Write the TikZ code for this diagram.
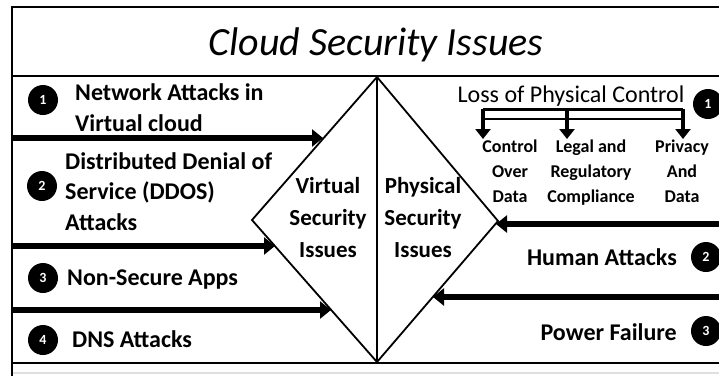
\documentclass[tikz,border=0pt]{standalone}
\usepackage{fontspec}
\setmainfont{Carlito}
\usetikzlibrary{arrows.meta}
\begin{document}
\begin{tikzpicture}[x=1pt,y=-1pt,
  frame/.style={line width=2.6pt},
  edge/.style={line width=1.8pt, line join=miter},
  bigarrow/.style={line width=6.5pt, -{Triangle[length=11pt,width=17pt]}},
  droparrow/.style={line width=4.5pt, -{Triangle[length=10pt,width=15pt]}},
  badge/.style={circle, fill=black, minimum size=30pt, inner sep=0pt, text=white,
    font=\bfseries\fontsize{14}{14}\selectfont},
  item/.style={inner sep=0pt, font=\bfseries\fontsize{24}{30.5}\selectfont, align=left},
  side/.style={inner sep=0pt, font=\bfseries\fontsize{23}{32}\selectfont, align=center},
  sub/.style={inner sep=0pt, font=\bfseries\fontsize{18}{25}\selectfont, align=center},
]
\useasboundingbox (0,0) rectangle (719,376);
\fill[white] (0,0) rectangle (719,376);

% outer frame and title band
\coordinate (fTL) at (12,7);
\coordinate (fTR) at (719,7);
\coordinate (fBL) at (12,376);
\coordinate (hL) at (12,76);
\coordinate (hR) at (719,76);
\coordinate (bL) at (12,363);
\coordinate (bR) at (719,363);
\draw[gray!25, line width=1.5pt] (12,373) -- (719,373);
\draw[frame] (fTR) -- (fTL) -- (fBL);
\draw[frame] (hL) -- (hR);
\draw[frame] (bL) -- (bR);

\node[inner sep=0pt, anchor=base, font=\itshape\fontsize{40}{40}\selectfont] (title) at (376,55) {Cloud Security Issues};

% central diamond split into virtual / physical halves
\coordinate (T) at (377,77);
\coordinate (R) at (498,221);
\coordinate (B) at (377,362);
\coordinate (L) at (252,220);
\draw[edge] (T) -- (R) -- (B) -- (L) -- cycle;
\draw[edge] (T) -- (B);

% multi-line nodes: the base anchor sits on the last line
\node[side, anchor=base] (virt) at (328,257) {Virtual\\Security\\Issues};
\node[side, anchor=base] (phys) at (423,257) {Physical\\Security\\Issues};

% virtual threats (left)
\node[badge] (n1) at (43,100) {1};
\node[item, anchor=base west] (t1) at (75,131) {Network Attacks in\\Virtual cloud};
\node[badge] (n2) at (42,186) {2};
\node[item, anchor=base west] (t2) at (65,230) {Distributed Denial of\\Service (DDOS)\\Attacks};
\node[badge] (n3) at (43,278) {3};
\node[item, anchor=base west] (t3) at (67,285) {Non-Secure Apps};
\node[badge] (n4) at (43,340) {4};
\node[item, anchor=base west] (t4) at (72,347) {DNS Attacks};

\coordinate (a1s) at (12,138);  \coordinate (a1e) at (323,138);
\coordinate (a2s) at (12,246);  \coordinate (a2e) at (275,246);
\coordinate (a3s) at (12,310);  \coordinate (a3e) at (331,310);
\draw[bigarrow] (a1s) -- (a1e);
\draw[bigarrow] (a2s) -- (a2e);
\draw[bigarrow] (a3s) -- (a3e);

% physical threats (right)
\node[inner sep=0pt, anchor=base, font=\fontsize{24}{24}\selectfont] (loss) at (571,102) {Loss of Physical Control};
\node[badge] (m1) at (708,104) {1};
\coordinate (k1) at (483,109);
\coordinate (k2) at (567,109);
\coordinate (k3) at (683,109);
\coordinate (k1b) at (483,119);
\coordinate (k3b) at (683,119);
\coordinate (d1) at (483,139);
\coordinate (d2) at (567,139);
\coordinate (d3) at (683,139);
\draw[line width=3pt] (k1) -- (k3);
\draw[line width=2.2pt] (k1b) -- (k3b);
\draw[droparrow] (k1) -- (d1);
\draw[droparrow] (k2) -- (d2);
\draw[droparrow] (k3) -- (d3);

\node[sub, anchor=base] (c1) at (510,202) {Control\\Over\\Data};
\node[sub, anchor=base] (c2) at (591,202) {Legal and\\Regulatory\\Compliance};
\node[sub, anchor=base] (c3) at (682,202) {Privacy\\And\\Data};

\node[item, anchor=base east] (h2) at (677,265) {Human Attacks};
\node[badge] (m2) at (706,257) {2};
\node[item, anchor=base east] (h3) at (677,340) {Power Failure};
\node[badge] (m3) at (706,331) {3};

\coordinate (r1s) at (719,224);  \coordinate (r1e) at (496,224);
\coordinate (r2s) at (719,297);  \coordinate (r2e) at (433,297);
\draw[bigarrow] (r1s) -- (r1e);
\draw[bigarrow] (r2s) -- (r2e);
\end{tikzpicture}
\end{document}
